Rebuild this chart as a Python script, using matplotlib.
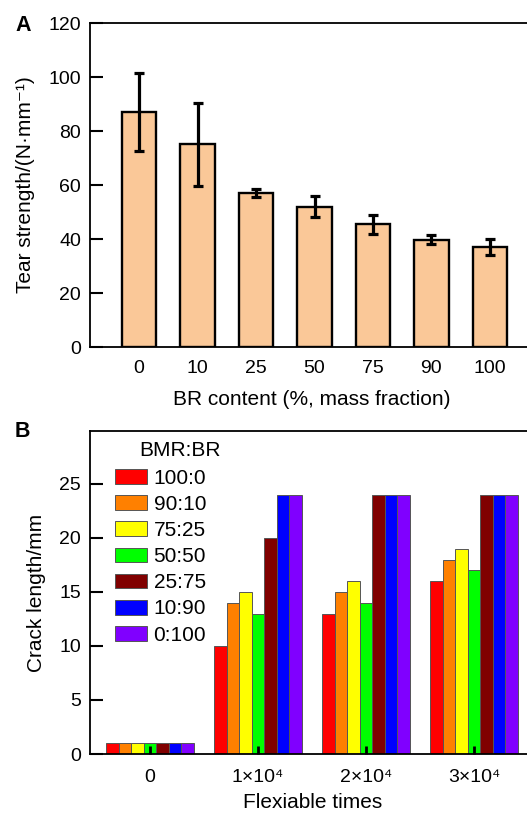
import numpy as np
import matplotlib
matplotlib.use("Agg")
import matplotlib.pyplot as plt
from matplotlib.patches import Patch

plt.rcParams.update({
    'font.family': ['Liberation Sans', 'DejaVu Sans'],
    'font.size': 15,
})

# Panel A data: tear strength vs BR content
br_content = ['0', '10', '25', '50', '75', '90', '100']
tear_mean = [87, 75, 57, 52, 45.5, 39.8, 37]
tear_err = [14.5, 15.5, 1.5, 4, 3.5, 1.8, 3]

# Panel B data: crack length vs flex times
flex_times = ['0', '1×10⁴', '2×10⁴', '3×10⁴']
ratios = ['100:0', '90:10', '75:25', '50:50', '25:75', '10:90', '0:100']
crack = [
    [1, 10, 13, 16],
    [1, 14, 15, 18],
    [1, 15, 16, 19],
    [1, 13, 14, 17],
    [1, 20, 24, 24],
    [1, 24, 24, 24],
    [1, 24, 24, 24],
]
ratio_colors = ['#ff0000', '#ff8000', '#ffff00', '#00ff00',
                '#800000', '#0000ff', '#8000ff']

W, H = 527, 813
fig = plt.figure(figsize=(W / 100, H / 100), dpi=100)

# ---- Panel A ----
ax_a = fig.add_axes([90 / W, 1 - 347 / H, 449 / W, 324 / H])
x = np.arange(len(br_content))
ax_a.bar(x, tear_mean, width=0.59, color='#fac898', edgecolor='black',
         linewidth=1.7, zorder=2)
ax_a.errorbar(x, tear_mean, yerr=tear_err, fmt='none', ecolor='black',
              elinewidth=2.3, capsize=3.8, capthick=2.3, zorder=3)
ax_a.set_xlim(-0.84, 6.84)
ax_a.set_ylim(0, 120)
ax_a.set_yticks(range(0, 121, 20))
ax_a.set_xticks(x)
ax_a.set_xticklabels(br_content)
ax_a.tick_params(axis='x', length=0, pad=9, labelsize=14)
ax_a.tick_params(axis='y', direction='in', length=9, width=1.5, pad=6.5,
                 labelsize=14)
for sp in ax_a.spines.values():
    sp.set_linewidth(1.3)
ax_a.set_xlabel('BR content (%, mass fraction)', fontsize=15)
ax_a.xaxis.set_label_coords((312 - 90) / 449, -0.132)
ax_a.set_ylabel('Tear strength/(N·mm⁻¹)', fontsize=15)
ax_a.yaxis.set_label_coords(-0.122, 0.5)

# ---- Panel B ----
ax_b = fig.add_axes([90 / W, 1 - 754 / H, 444 / W, 323 / H])
g = np.arange(len(flex_times))
bw = 0.116
for i, (r, c) in enumerate(zip(ratios, ratio_colors)):
    ax_b.bar(g + (i - 3) * bw, crack[i], width=bw, color=c,
             edgecolor='#555555', linewidth=0.7, label=r, zorder=1)
ax_b.set_xlim(-0.556, 3.556)
ax_b.set_ylim(0, 29.9)
ax_b.set_yticks(range(0, 26, 5))
ax_b.set_xticks(g)
ax_b.set_xticklabels(flex_times)
ax_b.tick_params(axis='x', direction='in', length=6, width=2, pad=11,
                 labelsize=14)
ax_b.tick_params(axis='y', direction='in', length=9, width=1.5, pad=6.5,
                 labelsize=14)
for sp in ax_b.spines.values():
    sp.set_linewidth(1.3)
ax_b.set_xlabel('Flexiable times', fontsize=15)
ax_b.xaxis.set_label_coords((313 - 90) / 444, -0.12)
ax_b.set_ylabel('Crack length/mm', fontsize=15)
ax_b.yaxis.set_label_coords(-0.1, 0.5)

handles = [Patch(facecolor=c, edgecolor='#555555', linewidth=0.7)
           for c in ratio_colors]
ax_b.legend(handles, ratios, loc='upper left', frameon=False,
            bbox_to_anchor=(25 / 444, 1 - 38 / 323), borderaxespad=0,
            borderpad=0, fontsize=15, handlelength=1.55, handleheight=0.72,
            handletextpad=0.3, labelspacing=0.34)
ax_b.text(49 / 444, 1 - 10 / 323, 'BMR:BR', transform=ax_b.transAxes,
          fontsize=15, ha='left', va='top')

# panel letters
fig.text(15 / W, 1 - 31 / H, 'A', fontsize=15.5, fontweight='bold',
         ha='left', va='baseline')
fig.text(15 / W, 1 - 437 / H, 'B', fontsize=15.5, fontweight='bold',
         ha='left', va='baseline')

fig.savefig('out.png', dpi=100)
